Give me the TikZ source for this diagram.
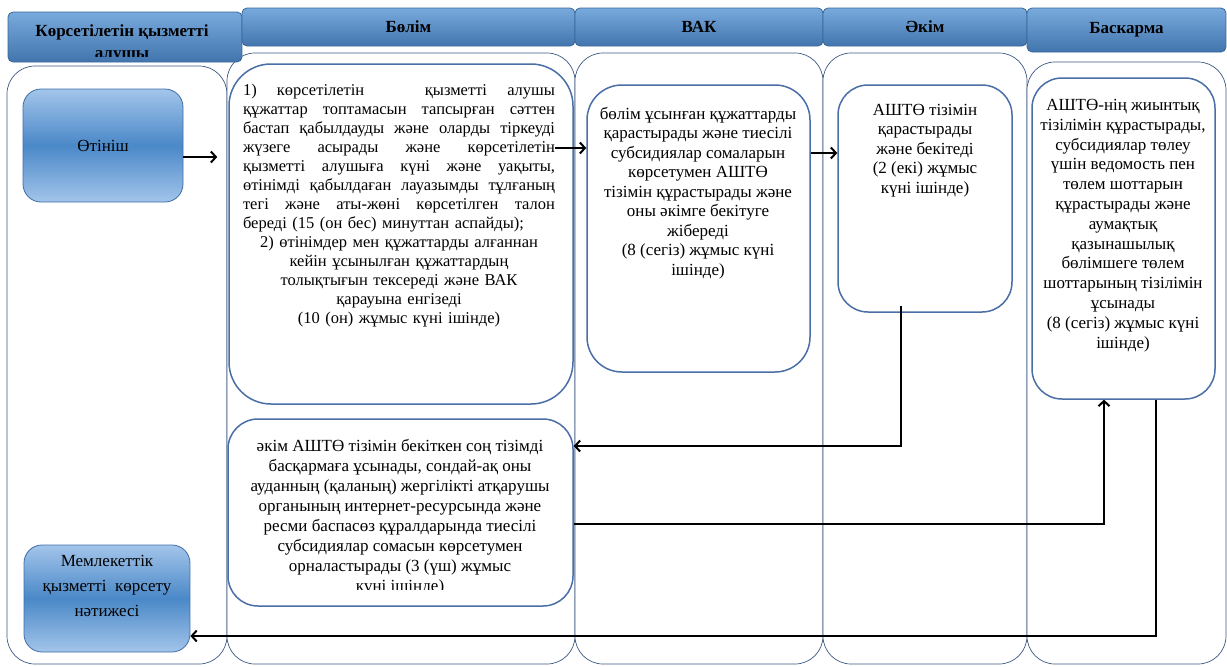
\documentclass[tikz,border=0pt]{standalone}
\usepackage{fontspec}
\setmainfont{Liberation Serif}
\usetikzlibrary{calc,arrows.meta}

\definecolor{headtop}{HTML}{78AADD}
\definecolor{headbot}{HTML}{4275AD}
\definecolor{headline}{HTML}{3A6598}
\definecolor{boxline}{HTML}{4A6EA6}
\definecolor{laneline}{HTML}{3E5A85}
\definecolor{pilltop}{HTML}{A3C5EA}
\definecolor{pillmid}{HTML}{4A88C8}
\definecolor{pillline}{HTML}{3F6EA8}

\newcommand{\jline}[1]{\makebox[312pt][s]{\spaceskip=.25em plus 1fil minus .1em\relax #1}}

\begin{document}
\begin{tikzpicture}[x=1pt, y=-1pt, >={Straight Barb[length=5pt,width=11pt]},
  lane/.style={draw=laneline, line width=0.7pt, rounded corners=28pt, fill=white, inner sep=0pt},
  head/.style={draw=headline, line width=0.8pt, rounded corners=5pt, top color=headtop, bottom color=headbot, inner sep=0pt, font=\fontsize{17}{22}\selectfont\bfseries},
  stepbox/.style={draw=boxline, line width=1.5pt, fill=white, inner sep=0pt},
  pill/.style={draw=pillline, line width=0.8pt, rounded corners=18pt, top color=pilltop, bottom color=pilltop, middle color=pillmid, inner sep=0pt},
  txt/.style={anchor=north, inner sep=0pt, align=center, font=\fontsize{17}{19.5}\selectfont},
  flow/.style={->, line width=2pt}]
  \useasboundingbox (0,0) rectangle (1227,667);
  \fill[white] (0,0) rectangle (1227,667);

  % swim lanes
  \node[lane, minimum width=220, minimum height=598] (lane1) at (117,365) {};
  \node[lane, minimum width=348, minimum height=611] (lane2) at (401,358.5) {};
  \node[lane, minimum width=248, minimum height=611] (lane3) at (699,358.5) {};
  \node[lane, minimum width=204, minimum height=611] (lane4) at (925,358.5) {};
  \node[lane, minimum width=199, minimum height=602] (lane5) at (1126.5,363) {};

  % headers
  \node[head, minimum width=234, minimum height=50] (head1) at (125,37) {};
  \begin{scope}
    \clip (8,12) rectangle (242,56.5);
    \node[inner sep=0pt, align=center, font=\fontsize{17}{22}\selectfont\bfseries] (head1txt) at (122,43) {Көрсетілетін қызметті\\алушы};
  \end{scope}
  \node[head, minimum width=333, minimum height=38] (head2) at (408.5,27) {Бөлім};
  \node[head, minimum width=248, minimum height=38] (head3) at (699,27) {ВАК};
  \node[head, minimum width=204, minimum height=38] (head4) at (925,27) {Әкім};
  \node[head, minimum width=199, minimum height=44] (head5) at (1126.5,30) {Баскарма};

  % steps
  \node[pill, minimum width=160, minimum height=113] (otinish) at (103,145.5) {};
  \node[txt, anchor=center] (otinishtxt) at (otinish) {Өтініш};
  \node[pill, minimum width=166, minimum height=107] (natija) at (107,598.5) {};
  \node[txt, anchor=center, font=\fontsize{17}{25}\selectfont] (natijatxt) at (107,586) {Мемлекеттік\\қызметті\ \ көрсету\\нәтижесі};

  \node[stepbox, rounded corners=42pt, minimum width=344, minimum height=340] (bolim1) at (401,234) {};
  \node[stepbox, rounded corners=30pt, minimum width=345, minimum height=187] (bolim2) at (400.5,512.5) {};
  \node[stepbox, rounded corners=35pt, minimum width=223, minimum height=287] (vak) at (698.5,228.5) {};
  \node[stepbox, rounded corners=30pt, minimum width=174, minimum height=227] (akim) at (925,198.5) {};
  \node[stepbox, rounded corners=30pt, minimum width=183, minimum height=321] (baskarma) at (1123.5,238.5) {};

  \node[txt, text width=312, font=\fontsize{16.5}{19}\selectfont] (bolim1txt) at (399,84) {%
    \jline{1) көрсетілетін\ \ \ қызметті\ алушы}\\
    \jline{құжаттар топтамасын тапсырған сәттен}\\
    \jline{бастап қабылдауды және оларды тіркеуді}\\
    \jline{жүзеге асырады және көрсетілетін}\\
    \jline{қызметті алушыға күні және уақыты,}\\
    \jline{өтінімді қабылдаған лауазымды тұлғаның}\\
    \jline{тегі және аты-жөні көрсетілген талон}\\
    \makebox[312pt][l]{береді (15 (он бес) минуттан аспайды);}\\
    2) өтінімдер мен құжаттарды алғаннан\\
    кейін ұсынылған құжаттардың\\
    толықтығын тексереді және ВАК\\
    қарауына енгізеді\\
    (10 (он) жұмыс күні ішінде)};
  \node[txt] (vaktxt) at (698,107) {бөлім ұсынған құжаттарды\\қарастырады және тиесілі\\субсидиялар сомаларын\\көрсетумен АШТӨ\\тізімін құрастырады және\\оны әкімге бекітуге\\жібереді\\(8 (сегіз) жұмыс күні\\ішінде)};
  \node[txt] (akimtxt) at (925,104) {АШТӨ тізімін\\қарастырады\\және бекітеді\\(2 (екі) жұмыс\\күні ішінде)};
  \node[txt, font=\fontsize{17}{19.8}\selectfont] (baskarmatxt) at (1123,99) {АШТӨ-нің жиынтық\\тізілімін құрастырады,\\субсидиялар төлеу\\үшін ведомость пен\\төлем шоттарын\\құрастырады және\\аумақтық\\қазынашылық\\бөлімшеге төлем\\шоттарының тізілімін\\ұсынады\\(8 (сегіз) жұмыс күні\\ішінде)};
  \begin{scope}
    \clip (220,415) rectangle (580,589);
    \node[txt, font=\fontsize{17}{20}\selectfont] (bolim2txt) at (400,439) {әкім АШТӨ тізімін бекіткен соң тізімді\\басқармаға ұсынады, сондай-ақ оны\\ауданның (қаланың) жергілікті атқарушы\\органының интернет-ресурсында және\\ресми баспасөз құралдарында тиесілі\\субсидиялар сомасын көрсетумен\\орналастырады (3 (үш) жұмыс\\күні ішінде)};
  \end{scope}

  % flows
  \draw[flow, shorten >=11pt] (otinish.east |- 0,157) -- (bolim1.west |- 0,157);
  \draw[flow] (bolim1txt.east |- 0,148) -- (vak.west |- 0,148);
  \draw[flow] (vak.east |- 0,153) -- (akim.west |- 0,153);
  \draw[flow] ($(akim.south)+(-24,-7)$) |- (bolim2.east |- 0,446);
  \draw[flow] (bolim2.east |- 0,524) -| ($(baskarma.south)+(-19.5,0)$);
  \draw[flow] ($(baskarma.south)+(32,0)$) |- (natija.east |- 0,636);
\end{tikzpicture}
\end{document}
